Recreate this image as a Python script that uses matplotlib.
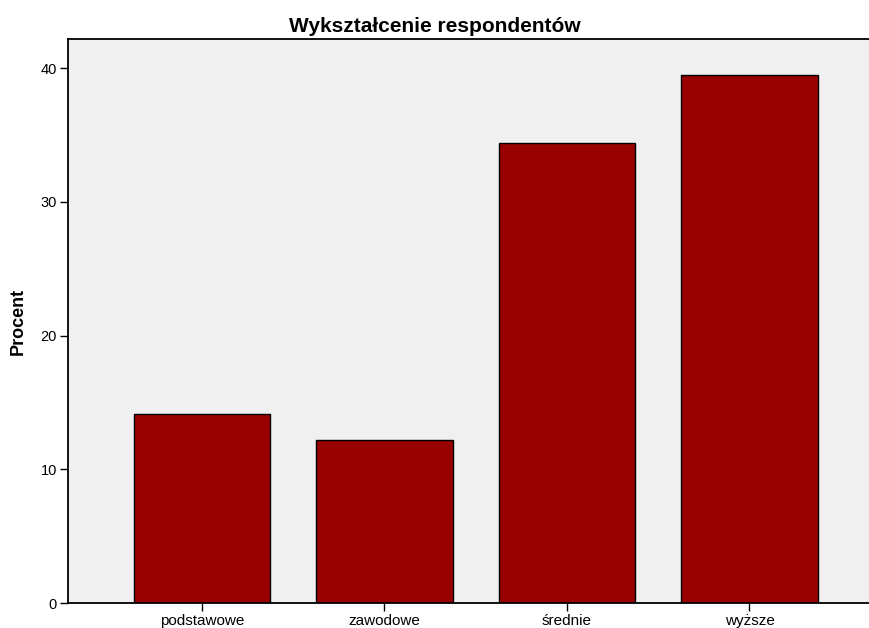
import matplotlib
matplotlib.use("Agg")
import matplotlib.pyplot as plt

plt.rcParams["font.family"] = ["Liberation Sans", "DejaVu Sans"]

CATEGORIES = ["podstawowe", "zawodowe", "średnie", "wyższe"]
PERCENT = [14.1, 12.2, 34.4, 39.5]
Y_TICKS = [0, 10, 20, 30, 40]

BG = "#F0F0F0"
BAR = "#990000"

fig = plt.figure(figsize=(8.69, 6.28), dpi=100)
ax = fig.add_axes([0.0783, 0.0398, 0.9217, 0.898])
ax.set_facecolor(BG)

x = list(range(len(CATEGORIES)))
ax.bar(x, PERCENT, width=0.75, color=BAR, edgecolor="black", linewidth=1.0)

ax.set_xlim(-0.734, 3.655)
ax.set_ylim(0, 42.17)
ax.set_xticks(x)
ax.set_xticklabels(CATEGORIES, fontsize=11)
ax.set_yticks(Y_TICKS)
ax.set_yticklabels([str(t) for t in Y_TICKS], fontsize=10.5)
ax.tick_params(length=6, width=1, color="black", pad=2)

ax.spines["right"].set_visible(False)
for s in ["left", "top", "bottom"]:
    ax.spines[s].set_linewidth(1.3)

ax.set_ylabel("Procent", fontsize=13, fontweight="bold", labelpad=10)
fig.text(0.5, 0.958, "Wykształcenie respondentów", fontsize=15,
         fontweight="bold", ha="center", va="center")

plt.savefig("out.png", dpi=100, facecolor="white")
